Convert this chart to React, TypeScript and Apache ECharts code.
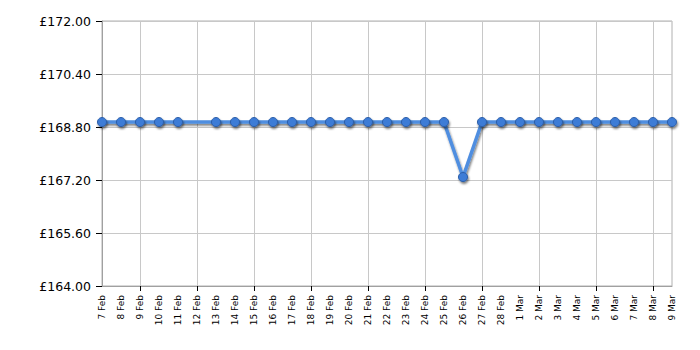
import React, { useEffect, useRef } from "react";
import * as echarts from "echarts";

const categories = [
  "7 Feb", "8 Feb", "9 Feb", "10 Feb", "11 Feb", "12 Feb", "13 Feb", "14 Feb", "15 Feb", "16 Feb",
  "17 Feb", "18 Feb", "19 Feb", "20 Feb", "21 Feb", "22 Feb", "23 Feb", "24 Feb", "25 Feb", "26 Feb",
  "27 Feb", "28 Feb", "1 Mar", "2 Mar", "3 Mar", "4 Mar", "5 Mar", "6 Mar", "7 Mar", "8 Mar", "9 Mar",
];

const prices: (number | null)[] = [
  168.95, 168.95, 168.95, 168.95, 168.95, null, 168.95, 168.95, 168.95, 168.95,
  168.95, 168.95, 168.95, 168.95, 168.95, 168.95, 168.95, 168.95, 168.95, 167.29,
  168.95, 168.95, 168.95, 168.95, 168.95, 168.95, 168.95, 168.95, 168.95, 168.95, 168.95,
];

const yMin = 164;
const yMax = 172;
const yStep = 1.6;

export default function App() {
  const ref = useRef<HTMLDivElement>(null);
  useEffect(() => {
    if (!ref.current) return;
    const chart = echarts.init(ref.current, null, { renderer: "svg" });
    const every3 = (i: number) => i % 3 === 2;
    chart.setOption({
      animation: false,
      grid: {
        left: 102,
        right: 28,
        top: 21,
        bottom: 64,
        show: true,
        borderColor: "#b0b0b0",
        borderWidth: 1,
      },
      xAxis: {
        type: "category",
        data: categories,
        boundaryGap: false,
        axisLine: { lineStyle: { color: "#a0a0a0", width: 1 } },
        axisTick: { show: true, interval: every3, length: 5, lineStyle: { color: "#000" } },
        axisLabel: {
          interval: 0,
          rotate: 90,
          fontSize: 9,
          fontFamily: "DejaVu Sans",
          color: "#000",
          margin: 9,
        },
        splitLine: { show: true, interval: every3, lineStyle: { color: "#c8c8c8", width: 1 } },
      },
      yAxis: {
        type: "value",
        min: yMin,
        max: yMax,
        interval: yStep,
        axisLine: { show: true, lineStyle: { color: "#a0a0a0", width: 1 } },
        axisTick: { show: true, length: 6, lineStyle: { color: "#000" } },
        axisLabel: {
          fontSize: 12.5,
          fontFamily: "DejaVu Sans",
          color: "#000",
          margin: 11,
          formatter: (v: number) => "£" + v.toFixed(2),
        },
        splitLine: { show: true, lineStyle: { color: "#c8c8c8", width: 1 } },
      },
      series: [
        {
          type: "line",
          data: prices,
          connectNulls: true,
          symbol: "circle",
          symbolSize: 9,
          lineStyle: {
            color: "#4f8ee0",
            width: 3.5,
            shadowColor: "rgba(0,0,0,0.5)",
            shadowOffsetX: 1,
            shadowOffsetY: 2,
            shadowBlur: 2,
          },
          itemStyle: {
            color: "#3d7bd6",
            borderColor: "#2b5ea8",
            borderWidth: 1,
            shadowColor: "rgba(0,0,0,0.5)",
            shadowOffsetX: 1,
            shadowOffsetY: 2,
            shadowBlur: 2,
          },
        },
      ],
    });
    return () => chart.dispose();
  }, []);
  return <div ref={ref} style={{ width: 700, height: 350, position: "absolute", left: 0, top: 0 }} />;
}
